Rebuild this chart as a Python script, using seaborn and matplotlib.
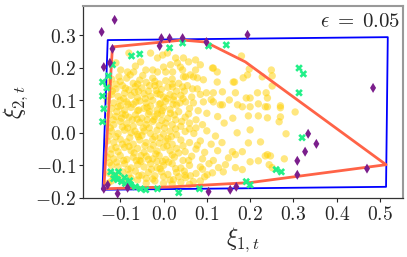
import numpy as np
import pandas as pd
import matplotlib
matplotlib.use('Agg')
import matplotlib.pyplot as plt
import seaborn as sns
from matplotlib.ticker import FuncFormatter

# gold sample cloud (xi_1, xi_2)
gold_pts = [
    # top band
    (-0.030, 0.245), (-0.014, 0.230), (-0.002, 0.239), (0.009, 0.245), (0.028, 0.230),
    (0.032, 0.215), (0.058, 0.218), (0.074, 0.224), (-0.099, 0.193), (-0.083, 0.187),
    (-0.069, 0.187), (-0.053, 0.218), (-0.041, 0.193), (-0.025, 0.193), (-0.014, 0.187),
    (0.000, 0.202), (0.005, 0.187), (0.016, 0.209), (0.021, 0.187), (0.039, 0.202),
    (0.046, 0.172), (0.062, 0.178), (0.078, 0.169), (0.074, 0.193), (0.113, 0.199),
    (0.124, 0.187), (0.161, 0.156), (0.184, 0.169), (0.194, 0.178), (0.046, 0.230),
    (0.085, 0.209), (0.115, 0.199), (0.180, 0.236), (0.198, 0.196), (0.044, 0.193),
    (0.051, 0.172), (0.069, 0.172), (0.092, 0.163), (0.124, 0.156), (0.164, 0.156),
    (0.228, 0.172), (-0.080, 0.245), (-0.110, 0.215), (-0.065, 0.205),
    # right side, sparse
    (0.021, 0.141), (0.044, 0.141), (0.067, 0.135), (0.078, 0.135), (0.099, 0.123),
    (0.115, 0.123), (0.136, 0.126), (0.166, 0.123), (0.191, 0.107), (0.200, 0.107),
    (0.217, 0.123), (0.240, 0.107), (0.023, 0.101), (0.051, 0.095), (0.069, 0.092),
    (0.092, 0.095), (0.115, 0.095), (0.131, 0.086), (0.152, 0.101), (0.171, 0.086),
    (0.182, 0.080), (0.200, 0.080), (0.219, 0.089), (0.240, 0.080), (0.136, 0.086),
    (0.196, 0.052), (0.219, 0.052), (0.200, 0.009), (0.224, -0.028), (0.196, -0.031),
    (0.182, -0.058), (0.159, -0.058), (0.166, -0.067), (0.150, -0.077), (0.200, -0.089),
    (0.219, -0.086), (0.240, -0.067), (0.143, -0.098), (0.166, -0.107), (0.182, -0.113),
    (0.127, -0.107), (0.113, -0.123), (0.138, -0.120), (0.069, -0.150), (0.101, -0.129),
    (0.023, -0.144), (0.051, -0.138),
    (0.249, 0.193), (0.251, 0.175), (0.251, 0.144), (0.237, 0.123), (0.235, 0.080),
    (0.270, 0.083), (0.270, 0.077), (0.240, 0.046), (0.270, 0.049), (0.267, 0.034),
    (0.304, 0.064), (0.283, -0.003), (0.235, -0.071), (0.247, -0.071),
    (0.279, -0.080), (0.244, -0.098), (0.251, -0.107),
    # dense core
    (-0.120, 0.165), (-0.100, 0.158), (-0.085, 0.168), (-0.070, 0.152), (-0.055, 0.162),
    (-0.040, 0.155), (-0.025, 0.168), (-0.010, 0.150), (0.005, 0.160), (0.020, 0.165),
    (0.035, 0.152),
    (-0.125, 0.140), (-0.110, 0.135), (-0.095, 0.145), (-0.080, 0.132), (-0.065, 0.142),
    (-0.050, 0.138), (-0.035, 0.128), (-0.020, 0.145), (-0.005, 0.133), (0.010, 0.140),
    (0.030, 0.128), (0.055, 0.145),
    (-0.120, 0.118), (-0.105, 0.112), (-0.090, 0.122), (-0.075, 0.115), (-0.060, 0.108),
    (-0.045, 0.120), (-0.030, 0.112), (-0.015, 0.120), (0.000, 0.110), (0.015, 0.118),
    (0.040, 0.115), (0.065, 0.110), (0.085, 0.118),
    (-0.130, 0.098), (-0.115, 0.092), (-0.100, 0.100), (-0.085, 0.095), (-0.070, 0.088),
    (-0.055, 0.098), (-0.040, 0.092), (-0.025, 0.100), (-0.010, 0.088), (0.005, 0.097),
    (0.030, 0.085), (0.045, 0.105), (0.110, 0.102),
    (-0.120, 0.075), (-0.105, 0.080), (-0.090, 0.070), (-0.075, 0.078), (-0.060, 0.068),
    (-0.045, 0.075), (-0.030, 0.082), (-0.015, 0.070), (0.000, 0.078), (0.015, 0.072),
    (0.035, 0.065), (0.060, 0.075), (0.080, 0.068), (0.100, 0.060),
    (-0.125, 0.055), (-0.110, 0.050), (-0.095, 0.058), (-0.080, 0.048), (-0.065, 0.055),
    (-0.050, 0.045), (-0.035, 0.058), (-0.020, 0.050), (-0.005, 0.058), (0.010, 0.045),
    (0.025, 0.055), (0.050, 0.048), (0.075, 0.040), (0.125, 0.050), (0.160, 0.045),
    (-0.130, 0.030), (-0.115, 0.025), (-0.100, 0.035), (-0.085, 0.028), (-0.070, 0.020),
    (-0.055, 0.032), (-0.040, 0.025), (-0.025, 0.035), (-0.010, 0.022), (0.005, 0.030),
    (0.020, 0.025), (0.040, 0.020), (0.060, 0.030), (0.090, 0.025), (0.140, 0.030),
    (-0.120, 0.005), (-0.105, -0.002), (-0.090, 0.008), (-0.075, 0.000), (-0.060, -0.005),
    (-0.045, 0.005), (-0.030, -0.002), (-0.015, 0.008), (0.000, -0.004), (0.015, 0.005),
    (0.030, -0.006), (0.050, 0.004), (0.070, -0.002), (0.100, 0.006), (0.120, -0.010),
    (0.170, 0.000),
    (-0.130, -0.025), (-0.115, -0.030), (-0.100, -0.020), (-0.085, -0.028), (-0.070, -0.035),
    (-0.055, -0.022), (-0.040, -0.030), (-0.025, -0.020), (-0.010, -0.032), (0.005, -0.025),
    (0.020, -0.035), (0.040, -0.022), (0.060, -0.030), (0.085, -0.025), (0.110, -0.035),
    (0.135, -0.030),
    (-0.120, -0.050), (-0.105, -0.058), (-0.090, -0.045), (-0.075, -0.055), (-0.060, -0.048),
    (-0.045, -0.060), (-0.030, -0.050), (-0.015, -0.056), (0.000, -0.045), (0.015, -0.055),
    (0.030, -0.048), (0.050, -0.058), (0.075, -0.050), (0.095, -0.060), (0.125, -0.055),
    (-0.130, -0.075), (-0.115, -0.080), (-0.100, -0.070), (-0.085, -0.082), (-0.070, -0.075),
    (-0.055, -0.085), (-0.040, -0.072), (-0.025, -0.080), (-0.010, -0.070), (0.005, -0.082),
    (0.025, -0.075), (0.045, -0.085), (0.065, -0.072), (0.090, -0.080), (0.115, -0.085),
    (-0.120, -0.100), (-0.105, -0.105), (-0.090, -0.095), (-0.075, -0.108), (-0.060, -0.098),
    (-0.045, -0.105), (-0.030, -0.095), (-0.015, -0.108), (0.000, -0.100), (0.020, -0.095),
    (0.040, -0.108), (0.060, -0.100), (0.085, -0.105), (0.105, -0.095),
    (-0.125, -0.125), (-0.110, -0.130), (-0.095, -0.120), (-0.080, -0.128), (-0.065, -0.118),
    (-0.050, -0.130), (-0.035, -0.122), (-0.020, -0.132), (-0.005, -0.120), (0.010, -0.128),
    (0.030, -0.122), (0.050, -0.130), (0.075, -0.125), (0.095, -0.135),
    (-0.120, -0.148), (-0.090, -0.152), (-0.060, -0.145), (-0.040, -0.155), (-0.020, -0.148),
    (0.000, -0.155), (0.015, -0.145), (0.040, -0.152), (0.060, -0.158), (0.085, -0.148),
    (-0.118, 0.128), (-0.092, 0.105), (-0.067, 0.125), (-0.042, 0.105), (-0.017, 0.130),
    (0.008, 0.105), (-0.108, 0.065), (-0.082, 0.088), (-0.057, 0.070), (-0.032, 0.065),
    (-0.007, 0.090), (0.022, 0.088), (-0.123, 0.015), (-0.097, 0.045), (-0.072, 0.040),
    (-0.047, 0.015), (-0.022, 0.040), (0.002, 0.015), (0.028, 0.040), (-0.110, -0.012),
    (-0.083, 0.015), (-0.058, -0.012), (-0.033, 0.015), (-0.008, -0.015), (0.018, -0.012),
    (-0.122, -0.065), (-0.095, -0.035), (-0.068, -0.062), (-0.043, -0.040), (-0.018, -0.065),
    (0.008, -0.040), (0.035, -0.062), (-0.108, -0.090), (-0.082, -0.112), (-0.052, -0.088),
    (-0.028, -0.112), (-0.002, -0.088), (0.028, -0.110), (-0.115, -0.138), (-0.075, -0.140),
    (-0.040, -0.140), (0.000, -0.135), (-0.110, 0.150), (-0.060, 0.150), (-0.020, 0.158),
    (0.020, 0.150),
    # extra fill in the core
    (-0.127, 0.152), (-0.103, 0.172), (-0.077, 0.178), (-0.048, 0.176), (-0.032, 0.145),
    (-0.088, 0.137), (-0.058, 0.128), (-0.008, 0.118), (0.024, 0.112), (0.048, 0.128),
    (-0.128, 0.112), (-0.099, 0.083), (-0.064, 0.095), (-0.038, 0.078), (-0.003, 0.068),
    (0.038, 0.092), (0.058, 0.058), (-0.116, 0.040), (-0.088, 0.055), (-0.061, 0.042),
    (-0.014, 0.058), (0.016, 0.060), (0.042, 0.035), (0.075, 0.015), (-0.095, 0.018),
    (-0.066, 0.005), (-0.038, 0.040), (-0.004, 0.038), (0.028, 0.012), (0.060, 0.012),
    (-0.126, -0.010), (-0.078, -0.015), (-0.050, -0.008), (-0.020, -0.012), (0.010, -0.018),
    (0.045, -0.040), (0.078, -0.038), (-0.110, -0.045), (-0.080, -0.042), (-0.052, -0.070),
    (-0.024, -0.038), (0.020, -0.068), (0.058, -0.085), (-0.125, -0.092), (-0.092, -0.085),
    (-0.063, -0.085), (-0.035, -0.082), (-0.008, -0.110), (0.012, -0.090), (0.048, -0.118),
    (-0.100, -0.140), (-0.057, -0.132), (-0.025, -0.142), (0.020, -0.158), (0.062, -0.132),
    (-0.128, -0.155), (-0.078, -0.158), (0.035, -0.135), (-0.015, -0.088), (0.090, -0.112),
]
gold_x = [p[0] for p in gold_pts]
gold_y = [p[1] for p in gold_pts]

# green crosses
green_x = [-0.074, -0.055, 0.014, 0.044, 0.104, 0.145, -0.118, -0.127, -0.141, -0.131,
           -0.141, -0.138, -0.141, 0.313, 0.323, 0.313, 0.320, 0.260, 0.272, -0.111,
           -0.104, -0.115, -0.106, -0.097, -0.088, -0.076, -0.065, -0.053, -0.041, -0.014,
           0.035, 0.083, 0.191, 0.200, -0.090, -0.078, -0.122]
green_y = [0.236, 0.242, 0.261, 0.276, 0.267, 0.270, 0.209, 0.175, 0.156, 0.138,
           0.113, 0.074, 0.034, 0.199, 0.181, 0.123, -0.015, -0.113, -0.120, -0.129,
           -0.120, -0.141, -0.144, -0.150, -0.156, -0.160, -0.166, -0.172, -0.175, -0.172,
           -0.184, -0.172, -0.150, -0.160, -0.138, -0.147, -0.120]

# purple diamonds
purple_x = [-0.113, -0.143, -0.118, -0.124, -0.138, -0.005, 0.014, 0.044, 0.099, -0.009,
            0.194, 0.484, 0.334, 0.353, 0.327, 0.309, 0.309, 0.470, -0.129, -0.138,
            -0.106, -0.083, 0.104, 0.154, 0.168]
purple_y = [0.347, 0.310, 0.258, 0.215, 0.202, 0.291, 0.291, 0.291, 0.279, 0.267,
            0.301, 0.138, -0.003, -0.034, -0.058, -0.086, -0.129, -0.110, -0.160, -0.172,
            -0.187, -0.169, -0.181, -0.175, -0.166]

# blue box and red hull (closed)
blue_x = [-0.141, -0.129, 0.518, 0.514, -0.141]
blue_y = [-0.175, 0.285, 0.294, -0.166, -0.175]
red_x = [-0.138, -0.118, 0.044, 0.097, 0.189, 0.514, 0.200, 0.020, -0.138]
red_y = [-0.172, 0.264, 0.285, 0.279, 0.218, -0.098, -0.153, -0.166, -0.172]

sns.set_style('ticks')
plt.rcParams['mathtext.fontset'] = 'cm'
plt.rcParams['font.family'] = ['DejaVu Sans']

fig = plt.figure(figsize=(4.07, 2.57), dpi=100)
ax = fig.add_axes([0.204, 0.23, 0.786, 0.747])

sns.scatterplot(x=gold_x, y=gold_y, ax=ax, color='#FFD000', alpha=0.5, s=28,
                edgecolor='none', zorder=1)
ax.plot(blue_x, blue_y, color='#0000FF', lw=1.3, zorder=2)
ax.plot(red_x, red_y, color='#FF6347', lw=2.0, zorder=3)
sns.scatterplot(x=green_x, y=green_y, ax=ax, marker='X', color='#22F088', s=30,
                edgecolor='none', zorder=4)
sns.scatterplot(x=purple_x, y=purple_y, ax=ax, marker='d', color='#7B1E8C', s=26,
                edgecolor='none', zorder=5)

ax.set_xlim(-0.186, 0.553)
ax.set_ylim(-0.2, 0.39)
ax.set_xticks([-0.1, 0.0, 0.1, 0.2, 0.3, 0.4, 0.5])
ax.set_yticks([-0.2, -0.1, 0.0, 0.1, 0.2, 0.3])
fmt = FuncFormatter(lambda v, p: '$%.1f$' % v)
ax.xaxis.set_major_formatter(fmt)
ax.yaxis.set_major_formatter(fmt)
ax.tick_params(labelsize=14, length=3, width=0.8, pad=2)

ax.set_xlabel(r'$\xi_{1,t}$', fontsize=17, labelpad=1)
ax.set_ylabel(r'$\xi_{2,t}$', fontsize=17, labelpad=4)

for side in ['top', 'right']:
    ax.spines[side].set_color('#999999')
    ax.spines[side].set_linewidth(1.5)
for side in ['left', 'bottom']:
    ax.spines[side].set_color('#333333')
    ax.spines[side].set_linewidth(0.9)

ax.text(0.99, 0.975, r'$\epsilon\;=\;0.05$', transform=ax.transAxes, fontsize=15,
        ha='right', va='top')

fig.savefig('out.png', dpi=100)
